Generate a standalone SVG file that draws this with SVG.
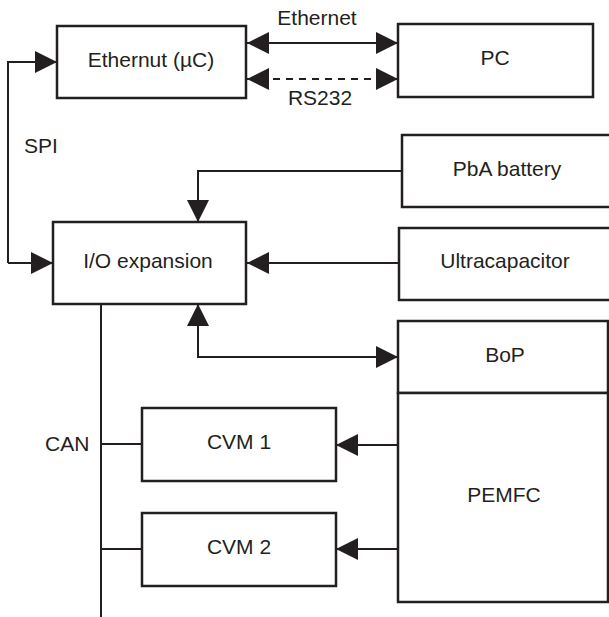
<svg xmlns="http://www.w3.org/2000/svg" width="609" height="617" viewBox="0 0 609 617">
<style>
.box{fill:#fff;stroke:#231f20;stroke-width:2.5}
.ln{fill:none;stroke:#231f20;stroke-width:2}
.dash{stroke-dasharray:7 6}
text{font-family:"Liberation Sans",Arial,sans-serif;font-size:21px;fill:#231f20;text-anchor:middle}
.l{text-anchor:start}
</style>
<defs>
<marker id="ah" viewBox="0 0 22 22" refX="22" refY="11" markerWidth="22" markerHeight="22" markerUnits="userSpaceOnUse" orient="auto-start-reverse">
<path d="M0,0 L22,11 L0,22 Z" fill="#231f20"/>
</marker>
</defs>
<rect width="609" height="617" fill="#fff"/>
<g id="connectors">
<line class="ln" x1="247" y1="43" x2="398" y2="43" marker-start="url(#ah)" marker-end="url(#ah)"/>
<line class="ln dash" x1="247" y1="79" x2="398" y2="79" marker-start="url(#ah)" marker-end="url(#ah)"/>
<polyline class="ln" points="8,263 8,62 57,62" marker-end="url(#ah)"/>
<line class="ln" x1="8" y1="263" x2="53" y2="263" marker-end="url(#ah)"/>
<polyline class="ln" points="402,171 198,171 198,222" marker-end="url(#ah)"/>
<line class="ln" x1="399" y1="263" x2="247" y2="263" marker-end="url(#ah)"/>
<polyline class="ln" points="198,304 198,357 398,357" marker-start="url(#ah)" marker-end="url(#ah)"/>
<line class="ln" x1="101" y1="304" x2="101" y2="617"/>
<line class="ln" x1="101" y1="444" x2="142" y2="444"/>
<line class="ln" x1="101" y1="549" x2="142" y2="549"/>
<line class="ln" x1="398" y1="445" x2="336" y2="445" marker-end="url(#ah)"/>
<line class="ln" x1="398" y1="549" x2="336" y2="549" marker-end="url(#ah)"/>
</g>
<g id="labels">
<text x="317" y="25">Ethernet</text>
<text x="320" y="105">RS232</text>
<text class="l" x="24" y="153">SPI</text>
<text class="l" x="45" y="451">CAN</text>
</g>
<g id="ethernut"><rect class="box" x="57" y="26" width="189" height="72"/><text x="151" y="67">Ethernut (µC)</text></g>
<g id="pc"><rect class="box" x="398" y="24" width="195" height="73"/><text x="495" y="65">PC</text></g>
<g id="pba"><rect class="box" x="402" y="135" width="220" height="72"/><text x="507" y="176">PbA battery</text></g>
<g id="ultracap"><rect class="box" x="399" y="228" width="223" height="72"/><text x="505" y="268">Ultracapacitor</text></g>
<g id="io"><rect class="box" x="53" y="222" width="193" height="82"/><text x="148" y="268">I/O expansion</text></g>
<g id="bop"><rect class="box" x="398" y="321" width="210" height="72"/><text x="505" y="362">BoP</text></g>
<g id="pemfc"><rect class="box" x="398" y="393" width="210" height="209"/><text x="504" y="502">PEMFC</text></g>
<g id="cvm1"><rect class="box" x="142" y="408" width="194" height="73"/><text x="239" y="449">CVM 1</text></g>
<g id="cvm2"><rect class="box" x="142" y="513" width="194" height="73"/><text x="239" y="554">CVM 2</text></g>
</svg>
